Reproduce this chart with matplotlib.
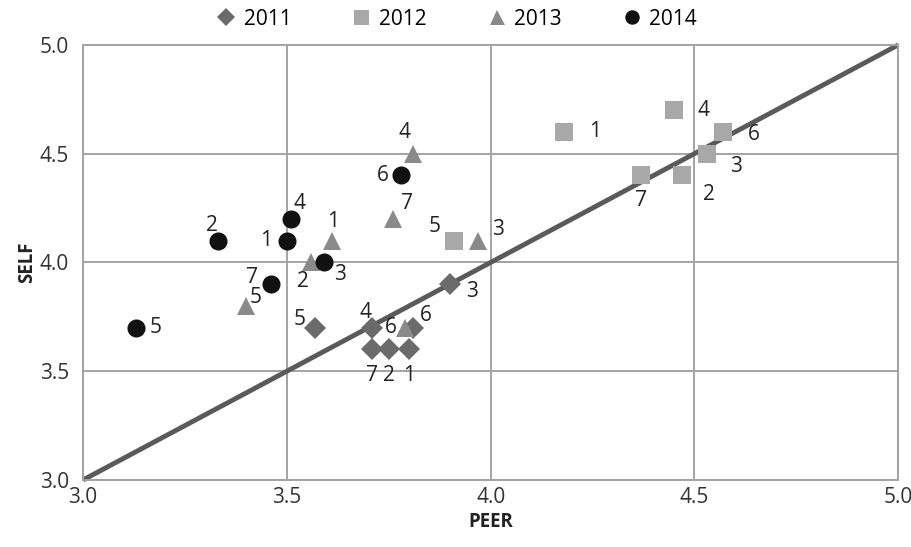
import matplotlib
matplotlib.use('Agg')
import matplotlib.pyplot as plt

plt.rcParams['font.family'] = ['Open Sans', 'DejaVu Sans']

# respondent ids (1..7) for every year
ids = [1, 2, 3, 4, 5, 6, 7]

peer_2011 = [3.80, 3.75, 3.90, 3.71, 3.57, 3.81, 3.71]
self_2011 = [3.6, 3.6, 3.9, 3.7, 3.7, 3.7, 3.6]

peer_2012 = [4.18, 4.47, 4.53, 4.45, 3.91, 4.57, 4.37]
self_2012 = [4.6, 4.4, 4.5, 4.7, 4.1, 4.6, 4.4]

peer_2013 = [3.61, 3.56, 3.97, 3.81, 3.40, 3.79, 3.76]
self_2013 = [4.1, 4.0, 4.1, 4.5, 3.8, 3.7, 4.2]

peer_2014 = [3.50, 3.33, 3.59, 3.51, 3.13, 3.78, 3.46]
self_2014 = [4.1, 4.1, 4.0, 4.2, 3.7, 4.4, 3.9]

# label offsets in points, per respondent
off_2011 = [(0, -19), (0, -19), (16, -5), (-5, 11), (-11, 6), (9, 9), (0, -19)]
off_2012 = [(22, 0), (19, -14), (21, -9), (21, 0), (-14, 10), (22, -2), (0, -18)]
off_2013 = [(1, 14), (-6, -14), (14, 8), (-6, 15), (7, 6), (-10, 0), (10, 11)]
off_2014 = [(-15, 0), (-4, 11), (12, -9), (6, 11), (14, 0), (-13, 0), (-13, 5)]

series = [
    ('2011', peer_2011, self_2011, off_2011, 'D', '#6b6b6b', 11),
    ('2012', peer_2012, self_2012, off_2012, 's', '#a8a8a8', 13.5),
    ('2013', peer_2013, self_2013, off_2013, '^', '#8a8a8a', 13.5),
    ('2014', peer_2014, self_2014, off_2014, 'o', '#111111', 13),
]

fig = plt.figure(figsize=(9.12, 5.47), dpi=100)
ax = fig.add_axes([0.091, 0.1225, 0.894, 0.7955])

ax.set_xlim(3.0, 5.0)
ax.set_ylim(3.0, 5.0)
ax.set_xticks([3.0, 3.5, 4.0, 4.5, 5.0])
ax.set_yticks([3.0, 3.5, 4.0, 4.5, 5.0])
ax.set_xticklabels(['3.0', '3.5', '4.0', '4.5', '5.0'])
ax.set_yticklabels(['3.0', '3.5', '4.0', '4.5', '5.0'])
ax.grid(True, color='#a3a3a3', linewidth=1.4, zorder=0)
for s in ax.spines.values():
    s.set_color('#a3a3a3')
    s.set_linewidth(1.4)
ax.tick_params(length=0, labelsize=15, colors='#333333')
ax.tick_params(axis='y', pad=10)
ax.tick_params(axis='x', pad=5)

# self == peer reference line
ax.plot([3.0, 5.0], [3.0, 5.0], color='#5a5a5a', linewidth=3.5, zorder=2,
        clip_on=False, solid_capstyle='butt')

for name, xs, ys, offs, mk, col, ms in series:
    ax.plot(xs, ys, linestyle='none', marker=mk, markersize=ms, color=col,
            markeredgewidth=0, label=name, zorder=3)
    for i, x, y, o in zip(ids, xs, ys, offs):
        ax.annotate(str(i), (x, y), xytext=o, textcoords='offset points',
                    ha='center', va='center', fontsize=15, color='#222222',
                    zorder=4)

ax.set_xlabel('PEER', fontsize=13.5, fontweight='bold', color='#222222', labelpad=3)
ax.set_ylabel('SELF', fontsize=13.5, fontweight='bold', color='#222222', labelpad=2)

fig.legend(*ax.get_legend_handles_labels(), loc='center',
           bbox_to_anchor=(0.5, 0.965), ncol=4, frameon=False,
           fontsize=15, handletextpad=0.3, columnspacing=2.8,
           handlelength=1.1, markerscale=0.8)

fig.savefig('out.png', dpi=100)
